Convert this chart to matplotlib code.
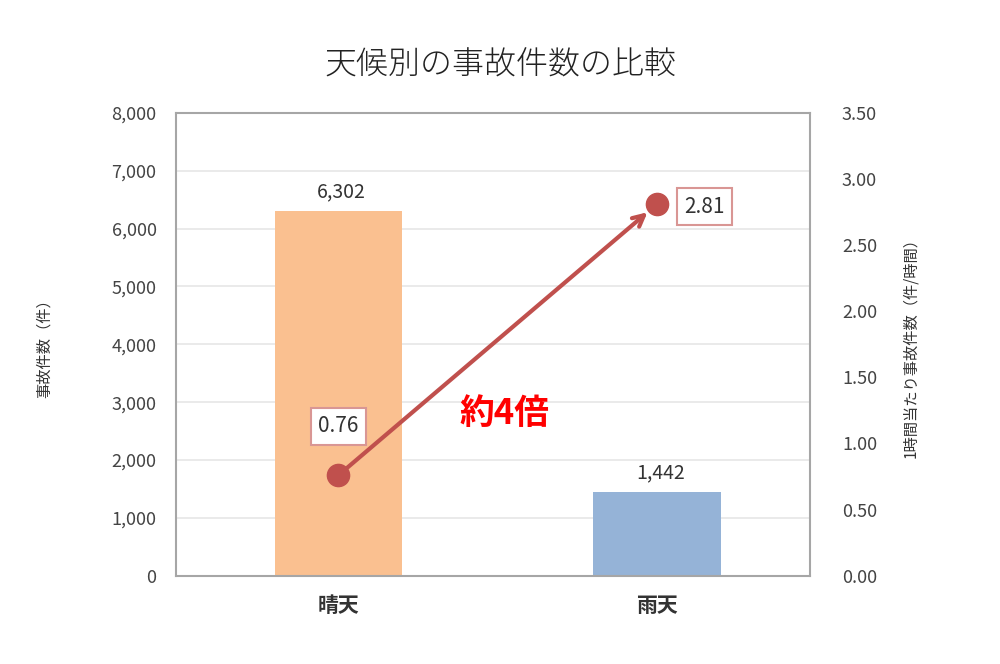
import matplotlib.pyplot as plt
from matplotlib.ticker import FuncFormatter

plt.rcParams['font.family'] = ['Noto Sans CJK JP', 'DejaVu Sans']

# データ
weather = ['晴天', '雨天']
accidents = [6302, 1442]
per_hour = [0.76, 2.81]

fig, ax = plt.subplots(figsize=(10, 6.64), dpi=100)
fig.subplots_adjust(left=0.176, right=0.81, top=0.83, bottom=0.133)

x = range(len(weather))
ax.bar(x, accidents, width=0.4, color=['#FAC090', '#95B3D7'], zorder=2)
for i, v in zip(x, accidents):
    ax.text(i + 0.01, v + 150, f'{v:,}', ha='center', va='bottom', fontsize=14, color='#333333')

ax.set_xlim(-0.51, 1.48)
ax.set_ylim(0, 8000)
ax.set_yticks(range(0, 8001, 1000))
ax.yaxis.set_major_formatter(FuncFormatter(lambda v, p: f'{int(v):,}'))
ax.set_xticks(list(x))
ax.set_xticklabels(weather, fontsize=15, fontweight='bold', color='#333333')
ax.grid(axis='y', color='#E6E6E6', linewidth=1.2, zorder=0)
ax.set_ylabel('事故件数（件）', fontsize=11, color='#333333', labelpad=42)
ax.tick_params(axis='y', labelsize=13, colors='#444444', length=0, pad=14)
ax.tick_params(axis='x', length=0, pad=14)
for s in ax.spines.values():
    s.set_color('#A6A6A6')
    s.set_linewidth(1.5)

# 右軸
ax2 = ax.twinx()
ax2.set_ylim(0, 3.5)
ax2.set_yticks([i * 0.5 for i in range(8)])
ax2.yaxis.set_major_formatter(FuncFormatter(lambda v, p: f'{v:.2f}'))
ax2.tick_params(axis='y', labelsize=13, colors='#444444', length=0, pad=23)
ax2.set_ylabel('1時間当たり事故件数（件/時間）', fontsize=11, color='#333333',
               rotation=90, labelpad=18)
for s in ax2.spines.values():
    s.set_visible(False)

ax2.annotate('', xy=(1, per_hour[1]), xytext=(0, per_hour[0]),
             arrowprops=dict(arrowstyle='->,head_length=0.8,head_width=0.4',
                             color='#C0504D', lw=3, shrinkA=0, shrinkB=9))
ax2.plot(x, per_hour, 'o', color='#C0504D', markersize=16, zorder=5)

box = dict(boxstyle='square,pad=0.35', facecolor='white', edgecolor='#D99694', linewidth=1.5)
ax2.text(0, per_hour[0] + 0.37, f'{per_hour[0]:.2f}', ha='center', va='center',
         fontsize=15, color='#333333', bbox=box)
ax2.text(1.15, per_hour[1] - 0.02, f'{per_hour[1]:.2f}', ha='center', va='center',
         fontsize=15, color='#333333', bbox=box)
ax2.text(0.52, 1.23, '約4倍', ha='center', va='center', fontsize=25,
         fontweight='bold', color='#FF0000')

fig.suptitle('天候別の事故件数の比較', fontsize=23, y=0.927, color='#222222', fontweight='light')

fig.savefig('out.png', dpi=100)
